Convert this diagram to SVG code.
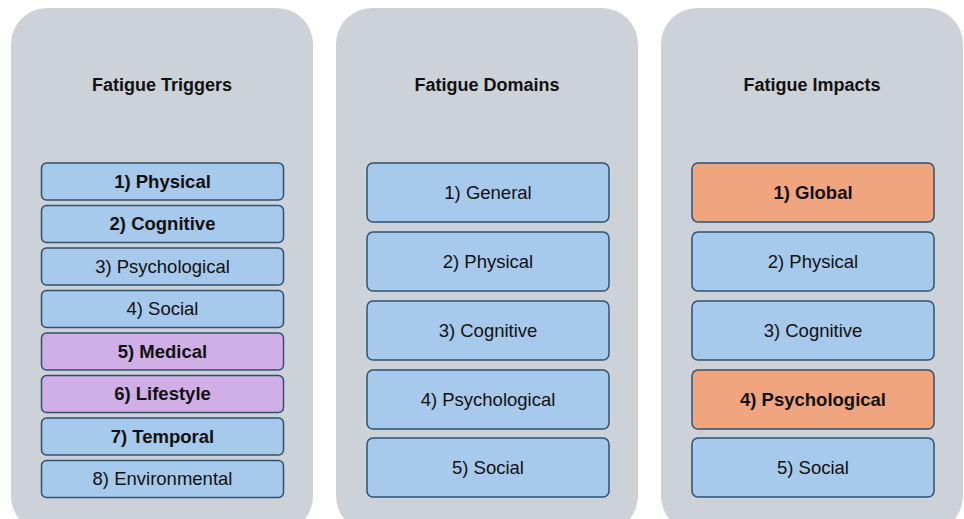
<svg xmlns="http://www.w3.org/2000/svg" width="964" height="519" viewBox="0 0 964 519">
<style>
.panel{fill:#cdd2d9}
.box{stroke:#2f5272;stroke-width:1.5}
.blue{fill:#a7c9ec}
.purple{fill:#d0aee6}
.orange{fill:#f0a57f}
text{font-family:"Liberation Sans",Arial,sans-serif;fill:#111;text-anchor:middle}
.title{font-size:18px;font-weight:bold}
.lbl{font-size:18.5px}
.b{font-weight:bold}
</style>
<rect width="964" height="519" fill="#ffffff"/>
<g id="panel-triggers">
<rect class="panel" x="11" y="8" width="302" height="524" rx="36"/>
<text class="title" x="162" y="91">Fatigue Triggers</text>
</g>
<g id="panel-domains">
<rect class="panel" x="336" y="8" width="302" height="524" rx="36"/>
<text class="title" x="487" y="91">Fatigue Domains</text>
</g>
<g id="panel-impacts">
<rect class="panel" x="661" y="8" width="302" height="524" rx="36"/>
<text class="title" x="812" y="91">Fatigue Impacts</text>
</g>
<g id="t1"><rect class="box blue" x="41.5" y="163" width="242" height="37" rx="5"/><text class="lbl b" x="162.5" y="187.5">1) Physical</text></g>
<g id="t2"><rect class="box blue" x="41.5" y="205.5" width="242" height="37" rx="5"/><text class="lbl b" x="162.5" y="230">2) Cognitive</text></g>
<g id="t3"><rect class="box blue" x="41.5" y="248" width="242" height="37" rx="5"/><text class="lbl" x="162.5" y="272.5">3) Psychological</text></g>
<g id="t4"><rect class="box blue" x="41.5" y="290.5" width="242" height="37" rx="5"/><text class="lbl" x="162.5" y="315">4) Social</text></g>
<g id="t5"><rect class="box purple" x="41.5" y="333" width="242" height="37" rx="5"/><text class="lbl b" x="162.5" y="357.5">5) Medical</text></g>
<g id="t6"><rect class="box purple" x="41.5" y="375.5" width="242" height="37" rx="5"/><text class="lbl b" x="162.5" y="400">6) Lifestyle</text></g>
<g id="t7"><rect class="box blue" x="41.5" y="418" width="242" height="37" rx="5"/><text class="lbl b" x="162.5" y="442.5">7) Temporal</text></g>
<g id="t8"><rect class="box blue" x="41.5" y="460.5" width="242" height="37" rx="5"/><text class="lbl" x="162.5" y="485">8) Environmental</text></g>
<g id="d1"><rect class="box blue" x="367" y="163" width="242" height="59" rx="6"/><text class="lbl" x="488" y="198.5">1) General</text></g>
<g id="d2"><rect class="box blue" x="367" y="232" width="242" height="59" rx="6"/><text class="lbl" x="488" y="267.5">2) Physical</text></g>
<g id="d3"><rect class="box blue" x="367" y="301" width="242" height="59" rx="6"/><text class="lbl" x="488" y="336.5">3) Cognitive</text></g>
<g id="d4"><rect class="box blue" x="367" y="370" width="242" height="59" rx="6"/><text class="lbl" x="488" y="405.5">4) Psychological</text></g>
<g id="d5"><rect class="box blue" x="367" y="438" width="242" height="59" rx="6"/><text class="lbl" x="488" y="473.5">5) Social</text></g>
<g id="i1"><rect class="box orange" x="692" y="163" width="242" height="59" rx="6"/><text class="lbl b" x="813" y="198.5">1) Global</text></g>
<g id="i2"><rect class="box blue" x="692" y="232" width="242" height="59" rx="6"/><text class="lbl" x="813" y="267.5">2) Physical</text></g>
<g id="i3"><rect class="box blue" x="692" y="301" width="242" height="59" rx="6"/><text class="lbl" x="813" y="336.5">3) Cognitive</text></g>
<g id="i4"><rect class="box orange" x="692" y="370" width="242" height="59" rx="6"/><text class="lbl b" x="813" y="405.5">4) Psychological</text></g>
<g id="i5"><rect class="box blue" x="692" y="438" width="242" height="59" rx="6"/><text class="lbl" x="813" y="473.5">5) Social</text></g>
<g id="connectors"></g>
</svg>
